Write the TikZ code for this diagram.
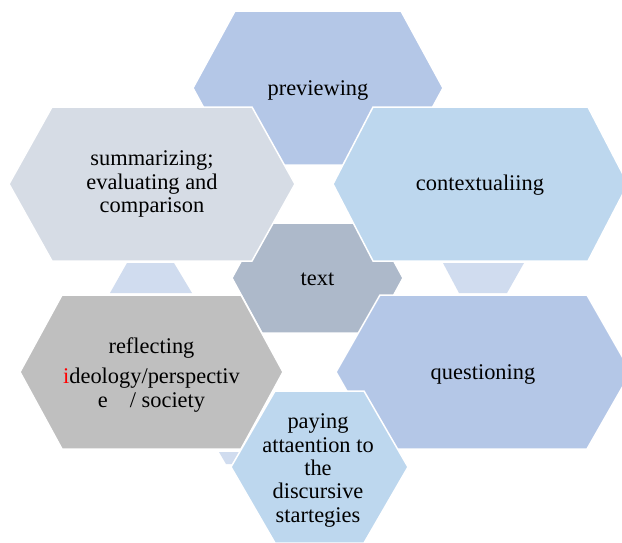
\documentclass[tikz,border=0pt]{standalone}
\usepackage{fontspec}
\setmainfont{Liberation Serif}
\definecolor{cPrev}{HTML}{B4C7E7}
\definecolor{cSumm}{HTML}{D6DCE5}
\definecolor{cCont}{HTML}{BDD7EE}
\definecolor{cText}{HTML}{ADB9CA}
\definecolor{cQues}{HTML}{B4C7E7}
\definecolor{cRefl}{HTML}{BFBFBF}
\definecolor{cPay}{HTML}{BDD7EE}
\definecolor{cLink}{HTML}{D0DCEF}
\newcommand\hexshape[6]{% cx cy halfwidth halfheight slant colour
  \filldraw[hexborder, fill=#6] ({#1-#3},#2) -- ({#1-#3+#5},{#2-#4}) -- ({#1+#3-#5},{#2-#4})
    -- ({#1+#3},#2) -- ({#1+#3-#5},{#2+#4}) -- ({#1-#3+#5},{#2+#4}) -- cycle;}
\tikzset{
  hexborder/.style={draw=white, line width=1.5pt, line join=miter},
  linkpiece/.style={fill=cLink, draw=none},
  lbl/.style={font=\fontsize{22.4}{23.3}\selectfont, inner sep=0pt, align=center, text=black}
}
\begin{document}
\begin{tikzpicture}[x=1pt,y=-1pt]
\clip (0,0) rectangle (622,542);
\fill[white] (0,0) rectangle (622,542);
% small connector pieces
\fill[linkpiece] (127,263) -- (174,263) -- (192,293) -- (110,293) -- cycle;
\fill[linkpiece] (443,263) -- (524,263) -- (507,293) -- (459,293) -- cycle;
\fill[linkpiece] (219,452) -- (262,452) -- (255,464) -- (226,464) -- cycle;
% hexagons
\hexshape{318}{88}{125}{77}{42}{cPrev}
\hexshape{317.5}{278}{85.5}{55}{30}{cText}
\hexshape{152}{184}{143}{77}{43}{cSumm}
\hexshape{480.5}{184}{147.5}{77}{40}{cCont}
\hexshape{151.5}{372}{131.5}{77}{42}{cRefl}
\hexshape{483.5}{372}{147.5}{77}{44}{cQues}
\hexshape{319.5}{467}{88.5}{76}{44}{cPay}
% labels
\node[lbl, anchor=base] (prev) at (318,95) {previewing};
\node[lbl] (summ) at (152,184) {summarizing;\\evaluating and\\comparison};
\node[lbl, anchor=base] (cont) at (480,190) {contextualiing};
\node[lbl, anchor=base] (txt) at (317.5,285) {text};
\node[lbl, anchor=base] (ques) at (483,379) {questioning};
\node[lbl] (refl) at (151.5,375) {reflecting\\[7pt]{\color{red}i}deology/perspectiv\\e\hspace{22pt}/ society};
\node[lbl] (pay) at (318,470.5) {paying\\attaention to\\the\\discursive\\startegies};
\end{tikzpicture}
\end{document}
